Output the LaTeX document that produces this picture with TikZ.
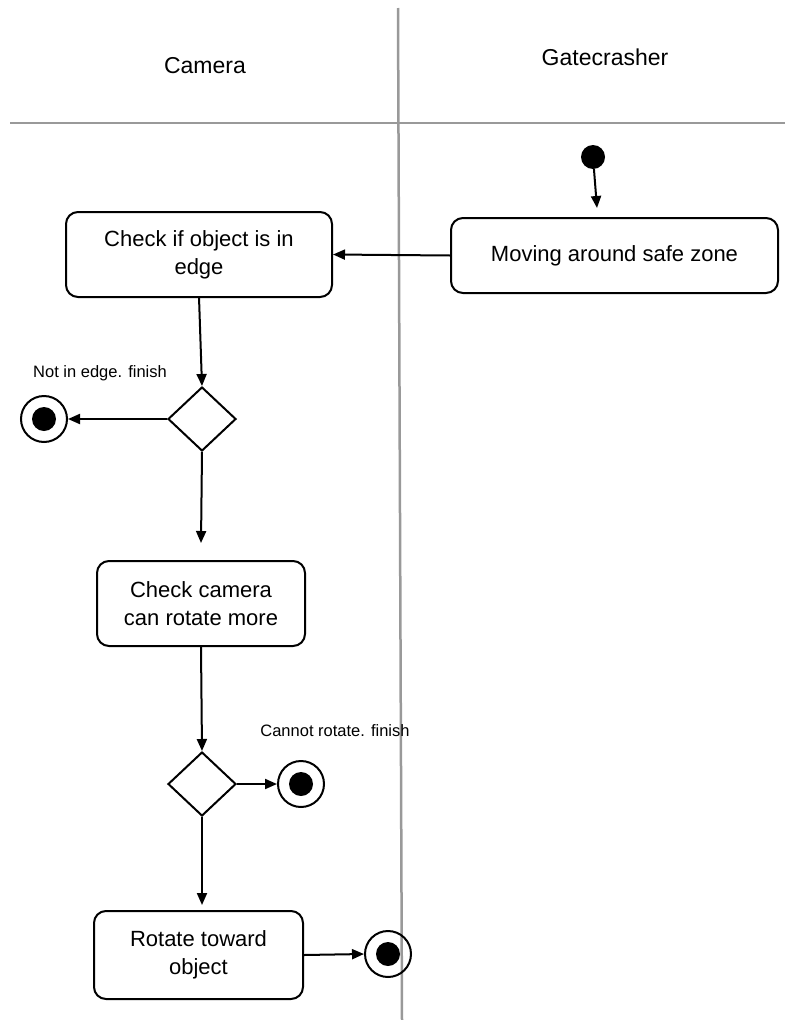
\documentclass[tikz,border=0pt]{standalone}
\usepackage{fontspec}
\setmainfont{Liberation Sans}
\usetikzlibrary{arrows.meta,shapes.geometric}
\begin{document}
\begin{tikzpicture}[x=1pt,y=-1pt,
  lane/.style={draw=black!40,line width=2.5pt},
  action/.style={draw,line width=2pt,rounded corners=12pt,align=center,
    inner sep=0pt,font=\fontsize{22}{28}\selectfont},
  decision/.style={draw,line width=2pt,diamond,inner sep=0pt,
    minimum width=68pt,minimum height=64pt},
  startnode/.style={fill=black,circle,inner sep=0pt,minimum size=24pt},
  endnode/.style={draw,line width=2pt,circle,inner sep=0pt,minimum size=46pt,
    path picture={\fill (path picture bounding box.center) circle (12pt);}},
  flow/.style={line width=2pt,-{Triangle[length=12pt,width=10pt]}},
  note/.style={font=\fontsize{16.5}{20}\selectfont},
  title/.style={font=\fontsize{23}{28}\selectfont}]
\useasboundingbox (0,0) rectangle (785,1020);

% swimlanes
\draw[lane] (398,8) -- (402,1020);
\draw[lane] (10,123) -- (785,123);
\node[title] (camlane) at (205,66) {Camera};
\node[title] (gatelane) at (605,57) {Gatecrasher};

% nodes
\node[startnode] (start) at (593,157) {};
\node[action,minimum width=327pt,minimum height=75pt] (moving) at (614.5,255.5) {Moving around safe zone};
\node[action,minimum width=266pt,minimum height=85pt] (checkedge) at (199,254.5) {Check if object is in\\edge};
\node[decision] (d1) at (202,419) {};
\node[endnode] (end1) at (44,419) {};
\node[note] (lab1) at (100,373) {Not in edge. finish};
\node[action,minimum width=208pt,minimum height=85pt] (checkrot) at (201,603.5) {Check camera\\can rotate more};
\node[decision] (d2) at (202,784) {};
\node[endnode] (end2) at (301,784) {};
\node[note] (lab2) at (335,731) {Cannot rotate. finish};
\node[action,minimum width=209pt,minimum height=88pt] (rotate) at (198.5,955) {Rotate toward\\object};
\node[endnode] (end3) at (388,954) {};

% free arrow ends
\coordinate (a1) at (597,208);
\coordinate (a2) at (201,543);
\coordinate (a3) at (202,905);

% connectors
\draw[flow] (start) -- (a1);
\draw[flow] (moving.west) -- (checkedge.east);
\draw[flow] (199,297) -- (d1.north);
\draw[flow] (d1.west) -- (end1.east);
\draw[flow] (d1.south) -- (a2);
\draw[flow] (checkrot.south) -- (d2.north);
\draw[flow] (d2.east) -- (end2.west);
\draw[flow] (d2.south) -- (a3);
\draw[flow] (rotate.east) -- (end3.west);
\end{tikzpicture}
\end{document}
